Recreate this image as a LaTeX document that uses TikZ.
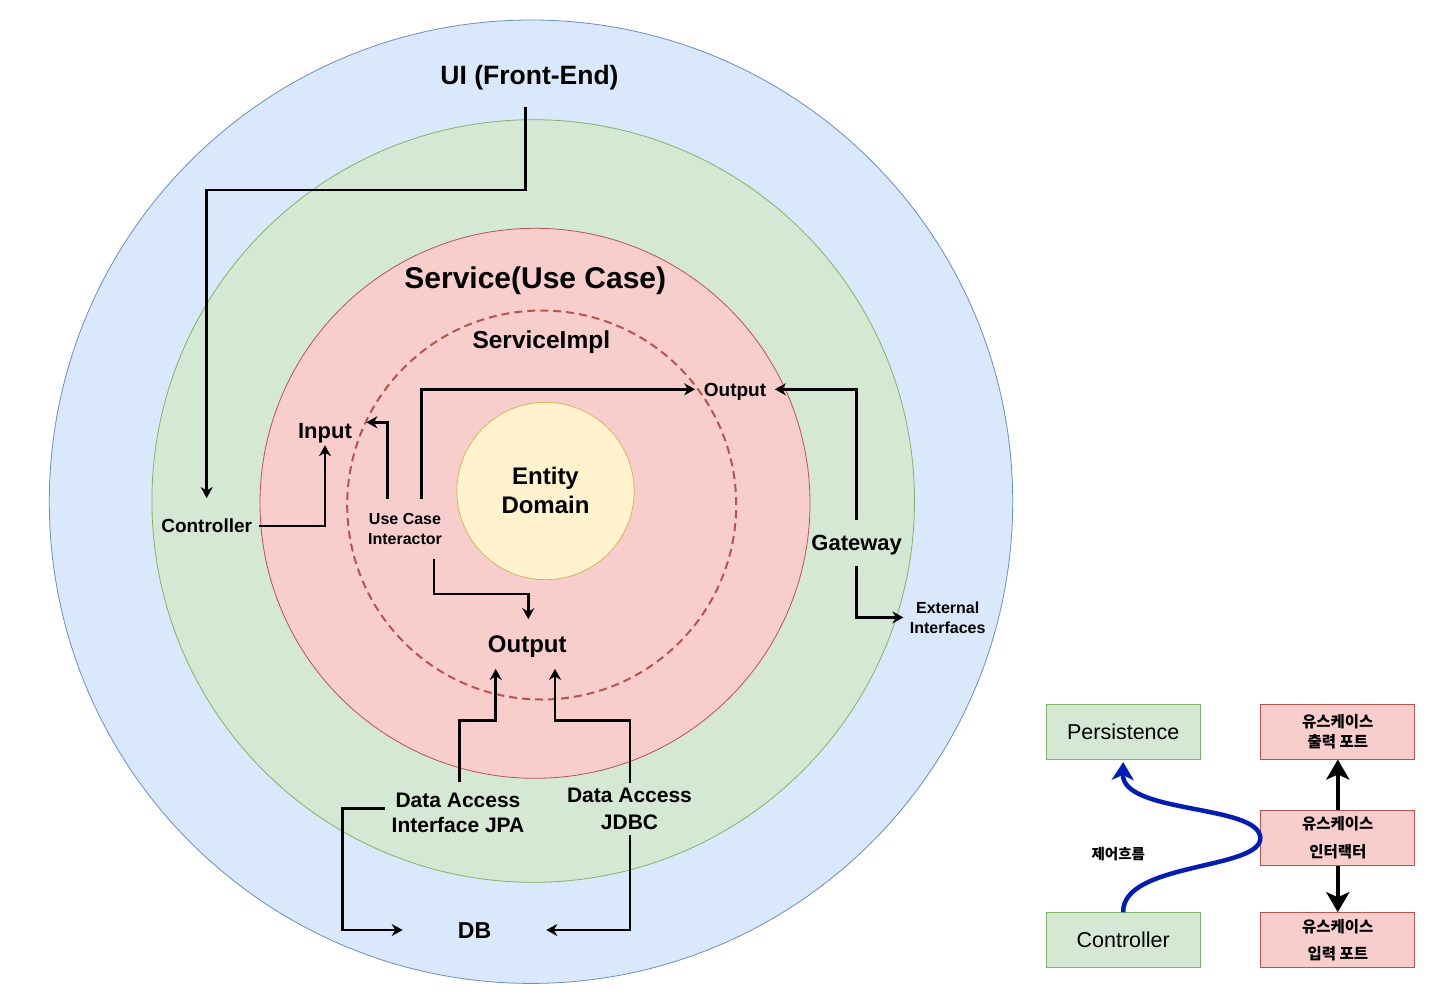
\documentclass[tikz,border=0pt]{standalone}
\usepackage{fontspec}
\setmainfont{Liberation Sans}
\newfontfamily\krfont{Noto Sans CJK KR}
\usetikzlibrary{arrows.meta}
\definecolor{bluefill}{HTML}{DAE8FC}
\definecolor{bluestroke}{HTML}{6C8EBF}
\definecolor{greenfill}{HTML}{D5E8D4}
\definecolor{greenstroke}{HTML}{82B366}
\definecolor{redfill}{HTML}{F8CECC}
\definecolor{redstroke}{HTML}{B85450}
\definecolor{yellowfill}{HTML}{FFF2CC}
\definecolor{yellowstroke}{HTML}{D6B656}
\definecolor{flowblue}{HTML}{001DBC}
\newcommand{\myfs}[2]{\fontsize{#1}{#2}\selectfont}
\begin{document}
\begin{tikzpicture}[x=1pt,y=-1pt,
  ring/.style={line width=0.8pt},
  arr/.style={draw=black, line width=2.5pt, -{Stealth[length=11pt,width=12pt,inset=3.5pt]}},
  thickarr/.style={draw=black, line width=4.5pt, -{Stealth[length=20pt,width=23pt,inset=5pt]}},
  flowarr/.style={draw=flowblue, line width=4.5pt, shorten >=2.5pt, -{Stealth[length=18pt,width=22pt,inset=5pt]}},
  lgbox/.style={draw=greenstroke, fill=greenfill, line width=1pt, minimum width=154pt, minimum height=55pt, inner sep=0pt},
  lrbox/.style={draw=redstroke, fill=redfill, line width=1pt, minimum width=154pt, minimum height=55pt, inner sep=0pt},
  one/.style={text depth=0pt}
]
\useasboundingbox (0,0) rectangle (1446,994);
\fill[white] (0,0) rectangle (1446,994);

% rings
\draw[ring, draw=bluestroke, fill=bluefill] (531,501.7) circle[radius=481.7pt];
\draw[ring, draw=greenstroke, fill=greenfill] (533.2,501) circle[radius=381.3pt];
\draw[ring, draw=redstroke, fill=redfill] (535,503.3) circle[radius=275pt];
\draw[draw=redstroke, line width=2pt, dash pattern=on 8pt off 5pt] (541.7,505) circle[radius=194.5pt];
\draw[ring, draw=yellowstroke, fill=yellowfill] (545.5,491) circle[radius=88.7pt];

% labels
\node[one, font=\bfseries\myfs{26.5}{32}, text height=19.1pt, inner xsep=3pt, inner ysep=22.5pt] (ui) at (529.5,74.7) {UI (Front-End)};
\node[font=\bfseries\myfs{30}{36}] (svc) at (535.3,280.5) {Service(Use Case)};
\node[font=\bfseries\myfs{24.5}{29}] (impl) at (541.3,342) {ServiceImpl};
\node[font=\bfseries\myfs{24}{29}, align=center] (ent) at (545.5,490) {Entity\\Domain};
\node[one, font=\bfseries\myfs{22}{26}, text height=15.8pt, inner xsep=14.3pt, inner ysep=6.6pt] (inp) at (325,430.5) {Input};
\node[font=\bfseries\myfs{16}{20}, align=center, inner xsep=3pt, inner ysep=14pt] (uci) at (405,529) {Use Case\\Interactor};
\node[one, font=\bfseries\myfs{19}{23}, text height=13.7pt, inner xsep=8.5pt] (outs) at (735,389.3) {Output};
\node[one, font=\bfseries\myfs{24}{29}, text height=17.3pt, inner ysep=16pt] (outb) at (527.3,644) {Output};
\node[one, font=\bfseries\myfs{19}{23}, text height=13.7pt, inner xsep=6.6pt, inner ysep=20.9pt] (ctrl) at (206.7,526) {Controller};
\node[one, font=\bfseries\myfs{22}{26}, text height=15.8pt, inner ysep=15pt] (gw) at (856.7,542.8) {Gateway};
\node[font=\bfseries\myfs{16}{20}, align=center, inner xsep=6.3pt] (ext) at (947.7,617.4) {External\\Interfaces};
\node[font=\bfseries\myfs{21}{25.5}, align=center, inner xsep=6pt, inner ysep=11pt] (jpa) at (458,813) {Data Access\\Interface JPA};
\node[font=\bfseries\myfs{21}{27}, align=center, inner sep=5pt] (jdbc) at (629.5,809) {Data Access\\JDBC};
\node[one, font=\bfseries\myfs{23}{28}, text height=16.6pt, inner xsep=55pt] (db) at (474.5,930) {DB};

% connectors
\draw[arr] (525.7,0 |- ui.south) -- (525.7,190) -| (ctrl.north);
\draw[arr] (ctrl.east) -| (inp.south);
\draw[arr] (387.3,0 |- uci.north) |- ([yshift=8.2pt]inp.east);
\draw[arr] (421.7,0 |- uci.north) |- (outs.west);
\draw[arr] (434,0 |- uci.south) -- (434,594) -| (528.3,0 |- outb.north);
\draw[arr] (gw.north) |- (outs.east);
\draw[arr] (gw.south) |- (ext.west);
\draw[arr] (459.3,0 |- jpa.north) |- (495.7,720.7) -- (495.7,0 |- outb.south);
\draw[arr] (630,0 |- jdbc.north) |- (555,720.7) -- (555,0 |- outb.south);
\draw[arr] ([yshift=4.7pt]jpa.west) -| (342.7,0 |- db.west) -- (db.west);
\draw[arr] (630,0 |- jdbc.south) |- (db.east);

% legend
\node[lgbox, font=\myfs{21.5}{25}] (lpers) at (1123.2,731.5) {Persistence};
\node[lgbox, font=\myfs{21.5}{25}] (lctrl) at (1123.2,940.2) {Controller};
\node[lrbox, font=\krfont\bfseries\myfs{15.5}{19.5}, align=center] (lout) at (1337.8,731.5) {유스케이스\\출력 포트};
\node[lrbox, font=\krfont\bfseries\myfs{15.5}{28}, align=center] (lint) at (1337.8,837.5) {유스케이스\\인터랙터};
\node[lrbox, font=\krfont\bfseries\myfs{15.5}{27}, align=center] (lin) at (1337.8,940.2) {유스케이스\\입력 포트};
\node[font=\krfont\bfseries\myfs{14.5}{17}] (flow) at (1118.3,854) {제어흐름};

\draw[thickarr] (lint.north) -- (lout.south);
\draw[thickarr] (lint.south) -- (lin.north);
\draw[flowarr] (lctrl.north) .. controls (1122,862) and (1262,870) .. (lint.west) .. controls (1258,804) and (1122,814) .. (lpers.south);
\end{tikzpicture}
\end{document}
